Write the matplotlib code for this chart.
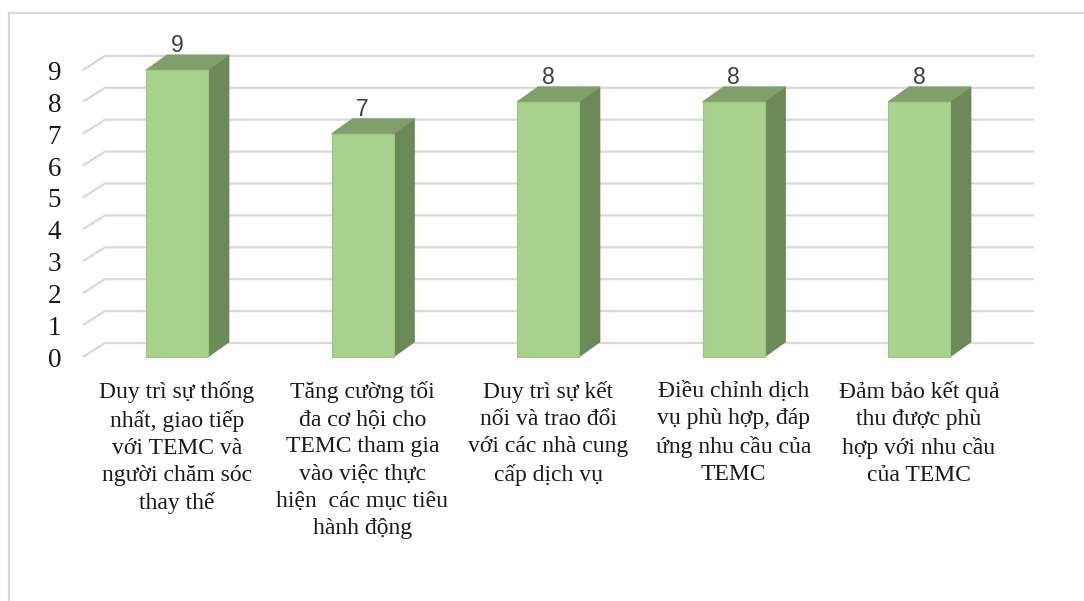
import matplotlib
matplotlib.use('Agg')
import matplotlib.pyplot as plt
from matplotlib.patches import Polygon, Rectangle
from matplotlib.lines import Line2D

# dữ liệu
categories = [
    "Duy trì sự thống\nnhất, giao tiếp\nvới TEMC và\nngười chăm sóc\nthay thế",
    "Tăng cường tối\nđa cơ hội cho\nTEMC tham gia\nvào việc thực\nhiện  các mục tiêu\nhành động",
    "Duy trì sự kết\nnối và trao đổi\nvới các nhà cung\ncấp dịch vụ",
    "Điều chỉnh dịch\nvụ phù hợp, đáp\nứng nhu cầu của\nTEMC",
    "Đảm bảo kết quả\nthu được phù\nhợp với nhu cầu\ncủa TEMC",
]
values = [9, 7, 8, 8, 8]
y_ticks = list(range(10))

front_c = '#A9D18E'
side_c = '#6B8A58'
top_c = '#809F6B'
grid_c = '#D9D9D9'

W, H = 1084, 601
fig = plt.figure(figsize=(W / 100, H / 100), dpi=100)

# khung trục: tâm cột 0 ở x=177px, bước 185.5px; y=0 ở 357px, 31.9px/đơn vị
xlim = (-0.55, 4.75)
ylim = (-0.5, 10)
px_x, px_y = 185.5, 31.9
left = 177 + xlim[0] * px_x
right = 177 + xlim[1] * px_x
bottom = (H - 357) + ylim[0] * px_y
top = (H - 357) + ylim[1] * px_y
ax = fig.add_axes([left / W, bottom / H, (right - left) / W, (top - bottom) / H])
ax.set_xlim(*xlim)
ax.set_ylim(*ylim)
for s in ax.spines.values():
    s.set_visible(False)
ax.patch.set_alpha(0)

# lưới kiểu 3D (tường sau + đường chéo)
gx0 = -0.507
gdx, gdy = 22 / px_x, 14 / px_y
gx_end = 4.62
for v in y_ticks:
    ax.plot([gx0, gx0 + gdx, gx_end], [v, v + gdy, v + gdy],
            color=grid_c, lw=1.6, zorder=1, clip_on=False, solid_capstyle='butt')

# cột 3D
w = 62 / px_x
bdx, bdy = 21 / px_x, 15 / px_y
for i, v in enumerate(values):
    x1, x2 = i - w / 2, i + w / 2
    ax.add_patch(Polygon([(x2, 0), (x2 + bdx, bdy), (x2 + bdx, v + bdy), (x2, v)],
                         closed=True, fc=side_c, ec=side_c, lw=0.5, zorder=3))
    ax.add_patch(Polygon([(x1, v), (x1 + bdx, v + bdy), (x2 + bdx, v + bdy), (x2, v)],
                         closed=True, fc=top_c, ec=top_c, lw=0.5, zorder=3))
    ax.add_patch(Rectangle((x1, 0), w, v, fc=front_c, ec='#9CC77F', lw=0.8, zorder=4))
    ax.text(i, v + bdy - 0.08, str(v), ha='center', va='bottom',
            fontsize=16.5, color='#404040', family='Liberation Sans', zorder=5)

# nhãn trục y, hơi lệch xuống so với đầu đường lưới
ax.set_yticks([])
for t in y_ticks:
    ax.annotate(str(t), xy=(0, t), xycoords=('axes fraction', 'data'),
                xytext=(-10, -2.5), textcoords='offset points',
                ha='right', va='center', family='Liberation Serif',
                fontsize=19.5, color='#1a1a1a')

ax.set_xticks(range(len(categories)))
ax.set_xticklabels(categories, family='Liberation Serif', fontsize=17,
                   color='#1a1a1a', linespacing=1.38)
ax.tick_params(axis='both', length=0)
ax.tick_params(axis='x', pad=6)

# viền ngoài
fig.add_artist(Line2D([9 / W, 1], [1 - 13 / H, 1 - 13 / H], color=grid_c, lw=1.6))
fig.add_artist(Line2D([9 / W, 9 / W], [0, 1 - 13 / H], color=grid_c, lw=1.6))

plt.savefig('out.png', dpi=100)
